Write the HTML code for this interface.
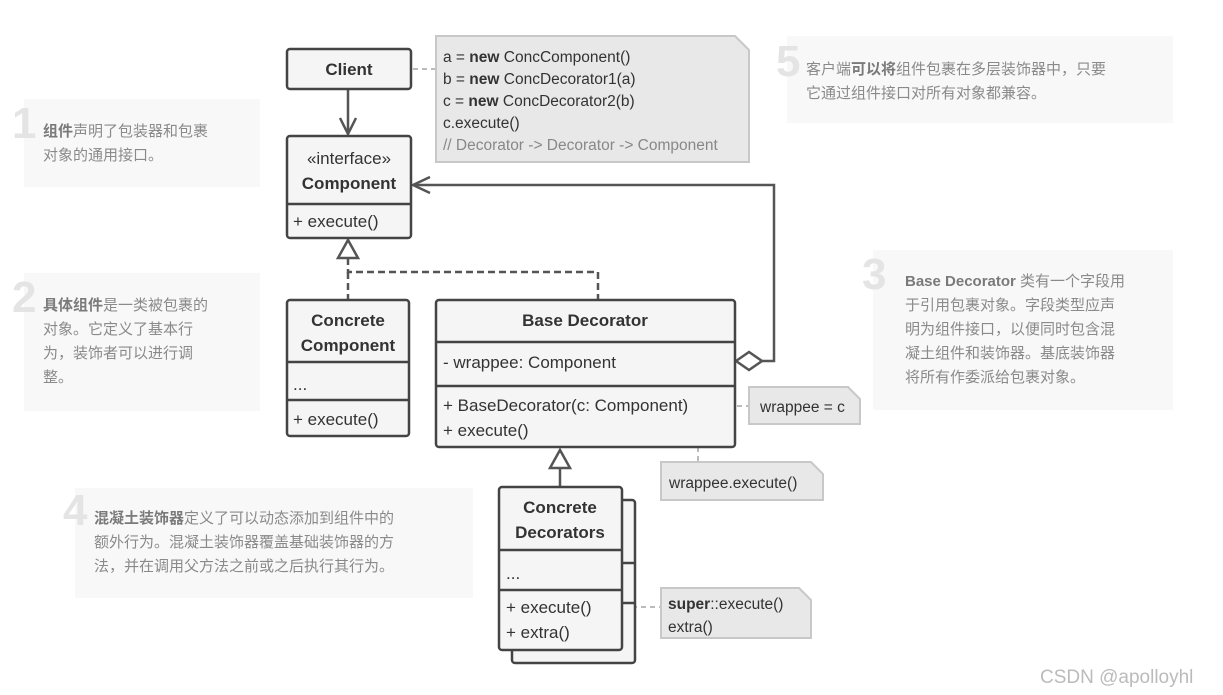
<!DOCTYPE html>
<html><head><meta charset="utf-8"><style>
body{margin:0;background:#fff;}
svg{display:block;font-family:"Liberation Sans","Noto Sans CJK SC",sans-serif;}
.b{font-weight:bold;}
.cn{font-size:15px;fill:#8a8a8a;}
.cn tspan.k{font-weight:bold;fill:#7a7a7a;}
.num{font-size:44px;font-weight:bold;fill:#e4e4e4;}
.t{font-size:17px;fill:#333;}
.nt{font-size:15.5px;fill:#333;}
</style></head><body>
<svg width="1223" height="695" viewBox="0 0 1223 695">
<!-- side notes -->
<g fill="#f8f8f8">
<rect x="24" y="99" width="236" height="88"/>
<rect x="24" y="273" width="236" height="138"/>
<rect x="75" y="488" width="398" height="110"/>
<rect x="873" y="250" width="300" height="160"/>
<rect x="787" y="36" width="386" height="87"/>
</g>
<text class="num" x="12" y="138">1</text>
<text class="cn" x="43" y="136"><tspan class="k">组件</tspan>声明了包装器和包裹</text>
<text class="cn" x="43" y="160">对象的通用接口。</text>
<text class="num" x="12" y="312">2</text>
<text class="cn" x="43" y="310"><tspan class="k">具体组件</tspan>是一类被包裹的</text>
<text class="cn" x="43" y="334">对象。它定义了基本行</text>
<text class="cn" x="43" y="358">为，装饰者可以进行调</text>
<text class="cn" x="43" y="382">整。</text>
<text class="num" x="63" y="525">4</text>
<text class="cn" x="94" y="523"><tspan class="k">混凝土装饰器</tspan>定义了可以动态添加到组件中的</text>
<text class="cn" x="94" y="547">额外行为。混凝土装饰器覆盖基础装饰器的方</text>
<text class="cn" x="94" y="571">法，并在调用父方法之前或之后执行其行为。</text>
<text class="num" x="862" y="289">3</text>
<text class="cn" x="905" y="286"><tspan class="k">Base Decorator</tspan> 类有一个字段用</text>
<text class="cn" x="905" y="310">于引用包裹对象。字段类型应声</text>
<text class="cn" x="905" y="334">明为组件接口，以便同时包含混</text>
<text class="cn" x="905" y="358">凝土组件和装饰器。基底装饰器</text>
<text class="cn" x="905" y="382">将所有作委派给包裹对象。</text>
<text class="num" x="776" y="76">5</text>
<text class="cn" x="806" y="74">客户端<tspan class="k">可以将</tspan>组件包裹在多层装饰器中，只要</text>
<text class="cn" x="806" y="98">它通过组件接口对所有对象都兼容。</text>

<!-- connectors -->
<g stroke="#555" stroke-width="2.5" fill="none">
<line x1="348" y1="89" x2="348" y2="134"/>
<polyline points="340,118 348,134 356,118"/>
<polyline points="762,361 774,361 774,185 413,185"/>
<polyline points="430,177 413,185 430,193"/>
<polyline points="348,258 348,272 598,272 598,300" stroke-dasharray="7,4"/>
<line x1="348" y1="272" x2="348" y2="300" stroke-dasharray="7,4"/>
<polygon points="348,240 338,258 358,258" fill="#fff"/>
<line x1="560" y1="468" x2="560" y2="487"/>
<polygon points="560,450 550,468 570,468" fill="#fff"/>
<polygon points="736,361 749,352 762,361 749,370" fill="#fff"/>
</g>
<g stroke="#bbb" stroke-width="2" fill="none" stroke-dasharray="5,4">
<line x1="413" y1="69" x2="436" y2="69"/>
<line x1="728" y1="406" x2="749" y2="406"/>
<polyline points="553,430 698,430 698,462"/>
<line x1="614" y1="607" x2="661" y2="607"/>
</g>
<g stroke="#bbb" stroke-width="1.8" fill="#fff">
<circle cx="722" cy="406" r="4"/><circle cx="548" cy="430" r="4"/><circle cx="608" cy="607" r="4"/>
</g>

<!-- code notes -->
<g fill="#e8e8e8" stroke="#c8c8c8" stroke-width="2">
<path d="M436,36 H735 L749,50 V162 H436 Z"/>
<path d="M749,387 H848 L860,399 V424 H749 Z"/>
<path d="M661,462 H811 L823,474 V500 H661 Z"/>
<path d="M661,588 H799 L811,600 V638 H661 Z"/>
</g>
<g class="nt">
<text x="443" y="62">a = <tspan class="b">new</tspan> ConcComponent()</text>
<text x="443" y="84">b = <tspan class="b">new</tspan> ConcDecorator1(a)</text>
<text x="443" y="106">c = <tspan class="b">new</tspan> ConcDecorator2(b)</text>
<text x="443" y="128">c.execute()</text>
<text x="443" y="150" fill="#888">// Decorator -&gt; Decorator -&gt; Component</text>
<text x="760" y="412">wrappee = c</text>
<text x="669" y="488">wrappee.execute()</text>
<text x="668" y="609"><tspan class="b">super</tspan>::execute()</text>
<text x="668" y="632">extra()</text>
</g>

<!-- classes -->
<g fill="#f5f5f5" stroke="#444" stroke-width="2.5">
<rect x="287" y="49" width="124" height="40" rx="3"/>
<rect x="287" y="136" width="124" height="102" rx="3"/>
<rect x="287" y="300" width="122" height="136" rx="3"/>
<rect x="436" y="300" width="299" height="147" rx="3"/>
<rect x="512" y="500" width="123" height="163" rx="3"/>
<rect x="499" y="487" width="123" height="163" rx="3"/>
</g>
<g stroke="#444" stroke-width="2.5">
<line x1="287" y1="204" x2="411" y2="204"/>
<line x1="287" y1="362" x2="409" y2="362"/>
<line x1="287" y1="400" x2="409" y2="400"/>
<line x1="436" y1="342" x2="735" y2="342"/>
<line x1="436" y1="386" x2="735" y2="386"/>
<line x1="499" y1="550" x2="622" y2="550"/>
<line x1="499" y1="590" x2="622" y2="590"/>
<line x1="622" y1="563" x2="635" y2="563"/>
<line x1="622" y1="603" x2="635" y2="603"/>
</g>
<g class="t">
<text class="b" x="349" y="75" text-anchor="middle">Client</text>
<text x="349" y="164" text-anchor="middle">«interface»</text>
<text class="b" x="349" y="189" text-anchor="middle">Component</text>
<text x="293" y="227">+ execute()</text>
<text class="b" x="348" y="326" text-anchor="middle">Concrete</text>
<text class="b" x="348" y="351" text-anchor="middle">Component</text>
<text x="293" y="390">...</text>
<text x="293" y="425">+ execute()</text>
<text class="b" x="585" y="326" text-anchor="middle">Base Decorator</text>
<text x="443" y="368">- wrappee: Component</text>
<text x="443" y="411">+ BaseDecorator(c: Component)</text>
<text x="443" y="436">+ execute()</text>
<text class="b" x="560" y="513" text-anchor="middle">Concrete</text>
<text class="b" x="560" y="538" text-anchor="middle">Decorators</text>
<text x="506" y="579">...</text>
<text x="506" y="613">+ execute()</text>
<text x="506" y="638">+ extra()</text>
</g>
<text x="1040" y="683" font-size="19" fill="#bbb">CSDN @apolloyhl</text>
</svg>
</body></html>
